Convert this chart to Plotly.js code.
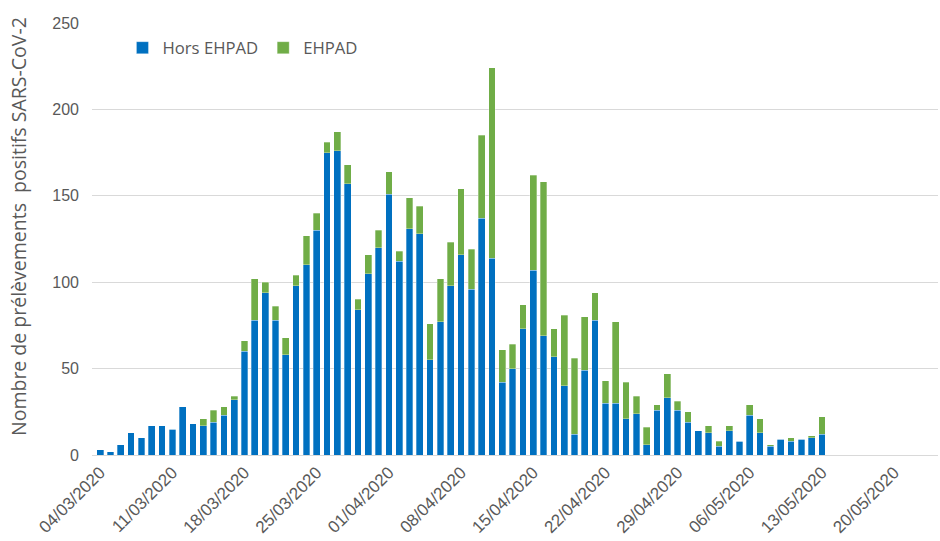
<!DOCTYPE html>
<html>
<head>
<meta charset="utf-8">
<script src="https://cdn.plot.ly/plotly-3.0.1.min.js"></script>
<style>
  html, body { margin: 0; padding: 0; background: #ffffff; }
  #chart { width: 940px; height: 541px; }
</style>
</head>
<body>
<div id="chart"></div>
<script>
const dates = [
  "2020-03-04","2020-03-05","2020-03-06","2020-03-07","2020-03-08","2020-03-09","2020-03-10",
  "2020-03-11","2020-03-12","2020-03-13","2020-03-14","2020-03-15","2020-03-16","2020-03-17",
  "2020-03-18","2020-03-19","2020-03-20","2020-03-21","2020-03-22","2020-03-23","2020-03-24",
  "2020-03-25","2020-03-26","2020-03-27","2020-03-28","2020-03-29","2020-03-30","2020-03-31",
  "2020-04-01","2020-04-02","2020-04-03","2020-04-04","2020-04-05","2020-04-06","2020-04-07",
  "2020-04-08","2020-04-09","2020-04-10","2020-04-11","2020-04-12","2020-04-13","2020-04-14",
  "2020-04-15","2020-04-16","2020-04-17","2020-04-18","2020-04-19","2020-04-20","2020-04-21",
  "2020-04-22","2020-04-23","2020-04-24","2020-04-25","2020-04-26","2020-04-27","2020-04-28",
  "2020-04-29","2020-04-30","2020-05-01","2020-05-02","2020-05-03","2020-05-04","2020-05-05",
  "2020-05-06","2020-05-07","2020-05-08","2020-05-09","2020-05-10","2020-05-11","2020-05-12",
  "2020-05-13"
];

const horsEhpad = [
  3, 2, 6, 13, 10, 17, 17,
  15, 28, 18, 17, 19, 23, 32,
  60, 78, 94, 78, 58, 98, 110,
  130, 175, 176, 157, 84, 105, 120,
  151, 112, 131, 128, 55, 77, 98,
  116, 96, 137, 114, 42, 50, 73,
  107, 69, 57, 40, 12, 49, 78,
  30, 30, 21, 24, 6, 26, 33,
  26, 19, 14, 13, 5, 14, 8,
  23, 13, 5, 9, 8, 9, 10,
  12
];

const ehpad = [
  0, 0, 0, 0, 0, 0, 0,
  0, 0, 0, 4, 7, 5, 2,
  6, 24, 6, 8, 10, 6, 17,
  10, 6, 11, 11, 6, 11, 10,
  13, 6, 18, 16, 21, 25, 25,
  38, 23, 48, 110, 19, 14, 14,
  55, 89, 16, 41, 44, 31, 16,
  13, 47, 21, 10, 10, 3, 14,
  5, 6, 0, 4, 3, 3, 0,
  6, 8, 1, 0, 2, 0, 1,
  10
];

const seriesNames = ["Hors EHPAD", "EHPAD"];
const yTicks = [0, 50, 100, 150, 200, 250];
const xTicks = ["2020-03-04","2020-03-11","2020-03-18","2020-03-25","2020-04-01",
                "2020-04-08","2020-04-15","2020-04-22","2020-04-29","2020-05-06",
                "2020-05-13","2020-05-20"];
const xTickText = ["04/03/2020","11/03/2020","18/03/2020","25/03/2020","01/04/2020",
                   "08/04/2020","15/04/2020","22/04/2020","29/04/2020","06/05/2020",
                   "13/05/2020","20/05/2020"];

const gray = "#595959";

const traces = [
  {
    type: "bar", name: seriesNames[0], x: dates, y: horsEhpad,
    marker: { color: "#0070C0", line: { color: "rgba(255,255,255,0.6)", width: 0.5 } },
    hoverinfo: "x+y+name"
  },
  {
    type: "bar", name: seriesNames[1], x: dates, y: ehpad,
    marker: { color: "#70AD47", line: { color: "rgba(255,255,255,0.6)", width: 0.5 } },
    hoverinfo: "x+y+name"
  }
];

const layout = {
  width: 940, height: 541,
  margin: { l: 92, r: 2, t: 23, b: 86 },
  paper_bgcolor: "#ffffff", plot_bgcolor: "#ffffff",
  barmode: "stack",
  bargap: 0.35,
  font: { family: "Liberation Sans, Arial, sans-serif", color: gray, size: 14 },
  showlegend: true,
  legend: {
    orientation: "h", x: 0.036, y: 0.983, xanchor: "left", yanchor: "top",
    font: { family: "Open Sans, sans-serif", size: 16.7, color: gray },
    bgcolor: "rgba(0,0,0,0)", traceorder: "normal", itemwidth: 30
  },
  xaxis: {
    type: "date",
    range: ["2020-03-03 05:00", "2020-05-24 06:00"],
    tickmode: "array", tickvals: xTicks, ticktext: xTickText,
    tickangle: -45,
    tickfont: { family: "Liberation Sans, Arial, sans-serif", size: 17, color: gray },
    showgrid: false, showline: true, linecolor: "#d9d9d9", linewidth: 1,
    ticks: "", zeroline: false, fixedrange: true
  },
  yaxis: {
    range: [0, 250],
    tickmode: "array", tickvals: yTicks,
    tickfont: { family: "Liberation Sans, Arial, sans-serif", size: 16, color: gray },
    showgrid: true, gridcolor: "#d9d9d9", gridwidth: 1,
    zeroline: false, showline: false, ticks: "", ticklen: 0,
    ticklabelstandoff: 12, fixedrange: true
  },
  annotations: [
    {
      text: "Nombre de prélèvements  positifs SARS-CoV-2",
      xref: "paper", yref: "paper",
      x: -0.0875, y: 0.53, xanchor: "center", yanchor: "middle",
      textangle: -90, showarrow: false,
      font: { family: "Open Sans, sans-serif", size: 19.5, color: gray }
    }
  ]
};

Plotly.newPlot("chart", traces, layout, { displayModeBar: false, staticPlot: true });
</script>
</body>
</html>
